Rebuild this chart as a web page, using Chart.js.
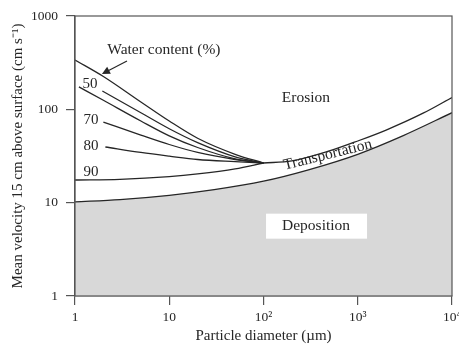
<!DOCTYPE html>
<html>
<head>
<meta charset="utf-8">
<script src="https://cdn.jsdelivr.net/npm/chart.js@4/dist/chart.umd.min.js"></script>
<style>
  html, body { margin: 0; padding: 0; background: #fff; overflow: hidden; }
  #wrap { position: relative; width: 459px; height: 345px; }
</style>
</head>
<body>
<div id="wrap"><canvas id="chart"></canvas></div>
<script>
// axis ticks
const diameterTicks = [1, 10, 100, 1000, 10000];
const diameterTickLabels = ['1', '10', '10²', '10³', '10⁴'];
const velocityTicks = [1, 10, 100, 1000];
const velocityTickLabels = ['1', '10', '100', '1000'];

// deposition threshold (lower edge of transportation band)
const depositionDiameter = [1, 3, 10, 30, 100, 300, 1000, 3000, 10000];
const depositionVelocity = [10.2, 10.8, 12, 13.8, 17, 22.5, 33, 52, 92];

// erosion threshold for loose grains (upper edge of band)
const erosionDiameter = [100, 200, 500, 1000, 2000, 5000, 10000];
const erosionVelocity = [26.6, 28, 35.8, 45.8, 60, 91.5, 134];

// erosion curves for cohesive sediment by water content
const topCurveDiameter = [1, 2, 5, 10, 20, 50, 100];
const topCurveVelocity = [338, 225, 120, 75, 49, 33, 26.6];
const wc50Diameter = [1.95, 5, 10, 20, 50, 100];
const wc50Velocity = [157, 92, 62, 44, 31, 26.6];
const wc60Diameter = [1.1, 2, 5, 10, 20, 50, 100];
const wc60Velocity = [174, 125, 75, 52, 39, 29.5, 26.6];
const wc70Diameter = [2, 5, 10, 20, 50, 100];
const wc70Velocity = [73, 53, 42, 34.5, 29, 26.6];
const wc80Diameter = [2.1, 5, 10, 20, 50, 100];
const wc80Velocity = [39.5, 34.5, 31.5, 29, 27.5, 26.6];
const wc90Diameter = [1, 3, 10, 20, 50, 100];
const wc90Velocity = [17.5, 17.8, 19, 20.3, 23, 26.6];

const FONT = "'Liberation Serif', 'Times New Roman', serif";
const INK = '#262626';
const AXIS = '#555';

function toPoints(xs, ys) {
  return xs.map((x, i) => ({ x, y: ys[i] }));
}

function curve(xs, ys, extra = {}) {
  return {
    data: toPoints(xs, ys),
    borderColor: INK,
    borderWidth: 1.3,
    pointRadius: 0,
    fill: false,
    cubicInterpolationMode: 'monotone',
    ...extra
  };
}

// text labels placed in data units
function drawLabel(ctx, chart, text, dx, vy, size, align = 'center') {
  const px = chart.scales.x.getPixelForValue(dx);
  const py = chart.scales.y.getPixelForValue(vy);
  ctx.font = `${size}px ${FONT}`;
  ctx.textAlign = align;
  ctx.textBaseline = 'middle';
  ctx.fillText(text, px, py);
}

const annotationPlugin = {
  id: 'annotations',
  afterDatasetsDraw(chart) {
    const { ctx, chartArea } = chart;
    const xs = chart.scales.x;
    const ys = chart.scales.y;
    ctx.save();

    ctx.strokeStyle = AXIS;
    ctx.lineWidth = 1.2;
    ctx.strokeRect(chartArea.left, chartArea.top, chartArea.right - chartArea.left, chartArea.bottom - chartArea.top);

    ctx.fillStyle = INK;
    drawLabel(ctx, chart, 'Water content (%)', 2.2, 430, 15.5, 'left');
    drawLabel(ctx, chart, '50', 1.44, 187, 15);
    drawLabel(ctx, chart, '70', 1.48, 77, 15);
    drawLabel(ctx, chart, '80', 1.48, 40.5, 15);
    drawLabel(ctx, chart, '90', 1.48, 21.3, 15);
    drawLabel(ctx, chart, 'Erosion', 282, 132, 15.5);

    // arrow from the legend text to the top curve
    const ax0 = xs.getPixelForValue(3.56);
    const ay0 = ys.getPixelForValue(330);
    const ax1 = xs.getPixelForValue(1.93);
    const ay1 = ys.getPixelForValue(239);
    const ang = Math.atan2(ay1 - ay0, ax1 - ax0);
    ctx.strokeStyle = INK;
    ctx.lineWidth = 1.2;
    ctx.beginPath();
    ctx.moveTo(ax0, ay0);
    ctx.lineTo(ax1 - 6 * Math.cos(ang), ay1 - 6 * Math.sin(ang));
    ctx.stroke();
    ctx.beginPath();
    ctx.moveTo(ax1, ay1);
    ctx.lineTo(ax1 - 8 * Math.cos(ang) + 4 * Math.sin(ang), ay1 - 8 * Math.sin(ang) - 4 * Math.cos(ang));
    ctx.lineTo(ax1 - 8 * Math.cos(ang) - 4 * Math.sin(ang), ay1 - 8 * Math.sin(ang) + 4 * Math.cos(ang));
    ctx.closePath();
    ctx.fill();

    // deposition label on a white box
    const dx = xs.getPixelForValue(361);
    const dy = ys.getPixelForValue(5.6);
    ctx.fillStyle = '#fff';
    ctx.fillRect(dx - 50, dy - 12.5, 101, 25);
    ctx.fillStyle = INK;
    drawLabel(ctx, chart, 'Deposition', 361, 5.6, 15.5);

    // transportation label along the band
    const tx = xs.getPixelForValue(480);
    const ty = ys.getPixelForValue(32.5);
    ctx.translate(tx, ty);
    ctx.rotate(-14 * Math.PI / 180);
    ctx.font = `15.5px ${FONT}`;
    ctx.textAlign = 'center';
    ctx.textBaseline = 'middle';
    ctx.fillText('Transportation', 0, 0);

    ctx.restore();
  }
};

new Chart(document.getElementById('chart'), {
  type: 'line',
  data: {
    datasets: [
      curve(depositionDiameter, depositionVelocity, { fill: 'start', backgroundColor: '#d8d8d8' }),
      curve(erosionDiameter, erosionVelocity),
      curve(topCurveDiameter, topCurveVelocity),
      curve(wc50Diameter, wc50Velocity),
      curve(wc60Diameter, wc60Velocity),
      curve(wc70Diameter, wc70Velocity),
      curve(wc80Diameter, wc80Velocity),
      curve(wc90Diameter, wc90Velocity)
    ]
  },
  options: {
    responsive: true,
    maintainAspectRatio: false,
    animation: false,
    layout: { padding: { top: 16, right: 7, bottom: 0, left: 0 } },
    plugins: {
      legend: { display: false },
      tooltip: { enabled: false }
    },
    scales: {
      x: {
        type: 'logarithmic',
        min: 1,
        max: 10000,
        afterBuildTicks: (scale) => { scale.ticks = diameterTicks.map((value) => ({ value })); },
        afterFit: (scale) => { scale.height = 49; scale.paddingLeft = 0; scale.paddingRight = 0; },
        ticks: {
          autoSkip: false,
          maxRotation: 0,
          padding: 4,
          color: INK,
          font: { family: FONT, size: 13.5 },
          callback: (value, index) => diameterTickLabels[index]
        },
        grid: { drawOnChartArea: false, tickLength: 9, color: AXIS, lineWidth: 1.2 },
        border: { color: AXIS, width: 1.2 },
        title: {
          display: true,
          text: 'Particle diameter (µm)',
          color: INK,
          font: { family: FONT, size: 15 },
          padding: { top: 0, bottom: 0 }
        }
      },
      y: {
        type: 'logarithmic',
        min: 1,
        max: 1000,
        afterBuildTicks: (scale) => { scale.ticks = velocityTicks.map((value) => ({ value })); },
        afterFit: (scale) => { scale.width = 75; scale.paddingTop = 0; scale.paddingBottom = 0; },
        ticks: {
          autoSkip: false,
          padding: 8,
          color: INK,
          font: { family: FONT, size: 13.5 },
          callback: (value, index) => velocityTickLabels[index]
        },
        grid: { drawOnChartArea: false, tickLength: 9, color: AXIS, lineWidth: 1.2 },
        border: { color: AXIS, width: 1.2 },
        title: {
          display: true,
          text: 'Mean velocity 15 cm above surface (cm s⁻¹)',
          color: INK,
          font: { family: FONT, size: 15 },
          padding: { top: 9, bottom: 0 }
        }
      }
    }
  },
  plugins: [annotationPlugin]
});
</script>
</body>
</html>
